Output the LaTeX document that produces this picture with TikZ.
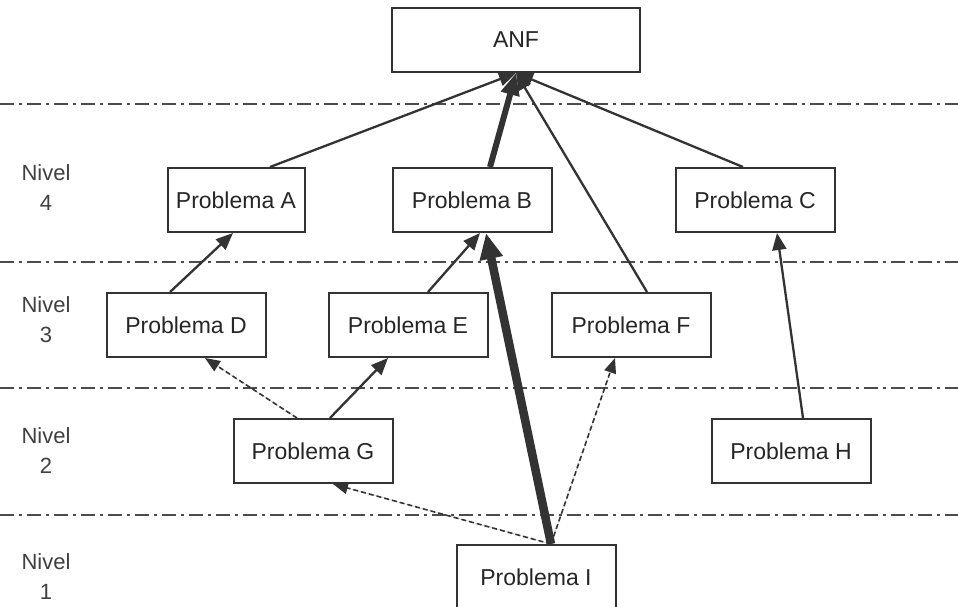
\documentclass[tikz,border=0pt]{standalone}
\usepackage{fontspec}
\setmainfont{Liberation Sans}
\usetikzlibrary{arrows.meta}

\begin{document}
\begin{tikzpicture}[x=1pt,y=-1pt]
\tikzset{
  probnode/.style={rectangle,draw=black!80,line width=2pt,minimum width=159pt,minimum height=64pt,inner sep=0pt,font=\fontsize{23}{26}\selectfont,text=black!85},
  levellabel/.style={align=center,font=\fontsize{22}{30}\selectfont,text=black!75},
  levelline/.style={line width=1.6pt,draw=black!70,dash pattern=on 14pt off 5pt on 3pt off 5pt},
  link/.style={-{Triangle[length=17pt,width=14pt]},line width=2.3pt,draw=black!80,fill=black!80},
  strong/.style={-{Triangle[length=22pt,width=18pt]},line width=6pt,draw=black!80,fill=black!80},
  strongest/.style={-{Triangle[length=26pt,width=22pt]},line width=8.5pt,draw=black!80,fill=black!80},
  weak/.style={-{Triangle[length=15pt,width=12pt]},line width=1.6pt,dash pattern=on 5pt off 3pt,draw=black!80,fill=black!80}
}
\useasboundingbox (0,0) rectangle (958,606);
\fill[white] (0,0) rectangle (958,606);
% level separators
\draw[levelline] (0,104) -- (958,104);
\draw[levelline] (0,262) -- (958,262);
\draw[levelline] (0,388) -- (958,388);
\draw[levelline] (0,515) -- (958,515);
\node[levellabel] (l_4) at (46,188) {Nivel\\4};
\node[levellabel] (l_3) at (46,320) {Nivel\\3};
\node[levellabel] (l_2) at (46,451) {Nivel\\2};
\node[levellabel] (l_1) at (46,577) {Nivel\\1};
% problems
\node[probnode,minimum width=248pt] (n_ANF) at (516,40) {ANF};
\node[probnode,minimum width=137pt] (n_A) at (236,200) {Problema A};
\node[probnode] (n_B) at (472,200) {Problema B};
\node[probnode] (n_C) at (755,200) {Problema C};
\node[probnode] (n_D) at (186,325) {Problema D};
\node[probnode] (n_E) at (408,325) {Problema E};
\node[probnode] (n_F) at (631,325) {Problema F};
\node[probnode] (n_G) at (313,451) {Problema G};
\node[probnode] (n_H) at (791,451) {Problema H};
\node[probnode] (n_I) at (536,577) {Problema I};
% links
\draw[link] ([xshift=34]n_A.north) -- (n_ANF.south);
\draw[link] ([xshift=16]n_F.north) -- (n_ANF.south);
\draw[link] ([xshift=-12]n_C.north) -- (n_ANF.south);
\draw[strong] ([xshift=18]n_B.north) -- (n_ANF.south);
\draw[link] ([xshift=-16]n_D.north) -- ([xshift=-3]n_A.south);
\draw[link] ([xshift=20]n_E.north) -- ([xshift=8]n_B.south);
\draw[link] ([xshift=17]n_G.north) -- ([xshift=-20]n_E.south);
\draw[link] ([xshift=12]n_H.north) -- ([xshift=22]n_C.south);
\draw[weak] ([xshift=-16]n_G.north) -- ([xshift=19]n_D.south);
\draw[weak] ([xshift=15]n_I.north) -- ([xshift=-16]n_F.south);
\draw[weak] ([xshift=15]n_I.north) -- ([xshift=20]n_G.south);
\draw[strongest] ([xshift=15]n_I.north) -- ([xshift=14]n_B.south);
\end{tikzpicture}
\end{document}
